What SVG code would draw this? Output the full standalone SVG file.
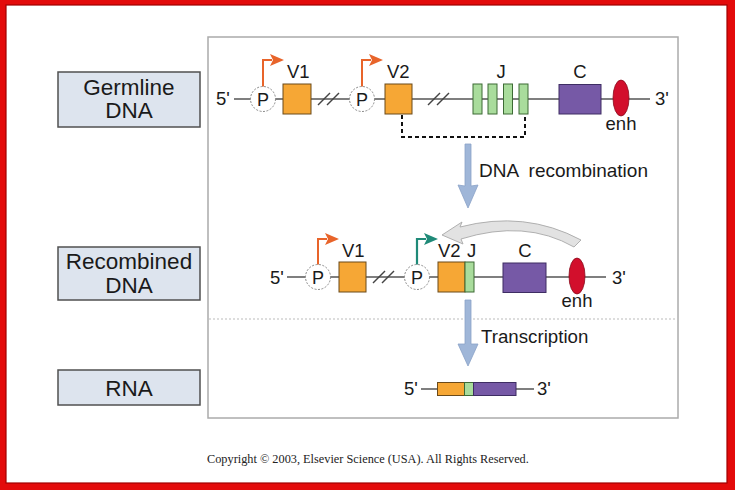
<svg xmlns="http://www.w3.org/2000/svg" width="735" height="490" viewBox="0 0 735 490">
<defs>
<style>
.lbl{font-family:"Liberation Sans",Arial,sans-serif;fill:#1a1a1a}
.big{font-size:22.5px;text-anchor:middle}
.gene{font-size:18.5px}
.end{font-size:18.5px}
.pt{font-size:18px;text-anchor:middle}
.dna{stroke:#555;stroke-width:1.5;fill:none}
.brk{stroke:#444;stroke-width:1.5}
.prom{fill:#fff;stroke:#888;stroke-width:1;stroke-dasharray:2,1.5}
.v{fill:#f6a735;stroke:#6b4a1a;stroke-width:1}
.j{fill:#a9dc9c;stroke:#3d6b35;stroke-width:1}
.c{fill:#7659a6;stroke:#3e2d63;stroke-width:1}
.enh{fill:#d20f2c;stroke:#8a0a1c;stroke-width:0.8}
.lbox{fill:#dde4ee;stroke:#505050;stroke-width:1.5}
.blue{fill:#9fb6d8;stroke:#8aa2c8;stroke-width:0.8}
.oarr{stroke:#e8642a;stroke-width:2;fill:none}
.tarr{stroke:#1f8a78;stroke-width:2.2;fill:none}
</style>
<marker id="mo" markerUnits="userSpaceOnUse" markerWidth="14" markerHeight="12" refX="2" refY="6" orient="auto"><path d="M0,0 L14,6 L0,12 L3,6 Z" fill="#e8642a"/></marker>
<marker id="mt" markerUnits="userSpaceOnUse" markerWidth="14" markerHeight="12" refX="2" refY="6" orient="auto"><path d="M0,0 L14,6 L0,12 L3,6 Z" fill="#1f8a78"/></marker>
</defs>
<rect x="0" y="0" width="735" height="490" fill="#e30b0b"/>
<rect x="6" y="5" width="721" height="478" fill="#fff" stroke="#a00000" stroke-width="1.2"/>
<rect x="208" y="37" width="470" height="381" fill="#fff" stroke="#ababab" stroke-width="1.5"/>
<line x1="209" y1="319" x2="677" y2="319" stroke="#bbb" stroke-width="1" stroke-dasharray="2,2"/>

<g id="label-germline"><rect class="lbox" x="58" y="72" width="142" height="55"/><text class="lbl big" x="129" y="95">Germline</text><text class="lbl big" x="129" y="118">DNA</text></g>
<g id="label-recombined"><rect class="lbox" x="58" y="247" width="142" height="53"/><text class="lbl big" x="129" y="269">Recombined</text><text class="lbl big" x="129" y="293">DNA</text></g>
<g id="label-rna"><rect class="lbox" x="58" y="370" width="142" height="35"/><text class="lbl big" x="129" y="396">RNA</text></g>

<g id="germline-dna">
<line class="dna" x1="234" y1="99" x2="650" y2="99"/>
<text class="lbl end" x="216" y="105">5'</text>
<text class="lbl end" x="655" y="105">3'</text>
<line class="brk" x1="318" y1="105" x2="330" y2="93"/><line class="brk" x1="327" y1="105" x2="339" y2="93"/>
<line class="brk" x1="428" y1="105" x2="440" y2="93"/><line class="brk" x1="437" y1="105" x2="449" y2="93"/>
<path class="oarr" d="M263,87 V60 H272" marker-end="url(#mo)"/>
<path class="oarr" d="M362,87 V60 H371" marker-end="url(#mo)"/>
<circle class="prom" cx="263" cy="99" r="12.5"/><text class="lbl pt" x="263" y="105.500">P</text>
<circle class="prom" cx="362" cy="99" r="12.5"/><text class="lbl pt" x="362" y="105.500">P</text>
<rect class="v" x="283" y="84" width="28" height="30"/><text class="lbl gene" x="287" y="78">V1</text>
<rect class="v" x="385" y="84" width="27" height="30"/><text class="lbl gene" x="387" y="78">V2</text>
<rect class="j" x="473" y="84" width="9" height="30"/>
<rect class="j" x="488" y="84" width="9" height="30"/>
<rect class="j" x="503.500" y="84" width="9" height="30"/>
<rect class="j" x="519" y="84" width="9" height="30"/>
<text class="lbl gene" x="501" y="78" text-anchor="middle">J</text>
<rect class="c" x="559" y="84.500" width="42" height="29.500"/><text class="lbl gene" x="580" y="78" text-anchor="middle">C</text>
<ellipse class="enh" cx="621" cy="98" rx="8" ry="18"/><text class="lbl gene" x="621" y="130" text-anchor="middle">enh</text>
</g>

<g id="connectors">
<path d="M402,115 V137 H525 V115" fill="none" stroke="#111" stroke-width="2" stroke-dasharray="4,3"/>
<polygon class="blue" points="465,144 471,144 471,186 478,185 468,208 458,185 465,186"/>
<text class="lbl" x="479" y="177" font-size="19" xml:space="preserve" style="white-space:pre">DNA  recombination</text>
<path d="M442,235 L462,222 L460,227 Q525,210 581,240 L574,247 Q525,219 461,239 L463,244 Z" fill="#e2e2e2" stroke="#a8a8a8" stroke-width="0.9"/>
<polygon class="blue" points="465,300 471,300 471,344 478,344 468,366 458,344 465,344"/>
<text class="lbl" x="481" y="343" font-size="18.7">Transcription</text>
</g>

<g id="recombined-dna">
<line class="dna" x1="287" y1="277" x2="606" y2="277"/>
<text class="lbl end" x="270" y="284">5'</text>
<text class="lbl end" x="612" y="284">3'</text>
<line class="brk" x1="373" y1="283" x2="385" y2="271"/><line class="brk" x1="382" y1="283" x2="394" y2="271"/>
<path class="oarr" d="M318,265 V239 H327" marker-end="url(#mo)"/>
<path class="tarr" d="M417,265 V239 H426" marker-end="url(#mt)"/>
<circle class="prom" cx="318" cy="277" r="12.5"/><text class="lbl pt" x="318" y="283.500">P</text>
<circle class="prom" cx="417" cy="277" r="12.5"/><text class="lbl pt" x="417" y="283.500">P</text>
<rect class="v" x="339" y="262" width="27" height="30"/><text class="lbl gene" x="342" y="257">V1</text>
<rect class="v" x="438" y="262" width="27" height="30"/><text class="lbl gene" x="438" y="257">V2</text>
<rect class="j" x="465" y="262" width="9" height="30"/><text class="lbl gene" x="467" y="257">J</text>
<rect class="c" x="503" y="263" width="43" height="29.500"/><text class="lbl gene" x="525" y="257" text-anchor="middle">C</text>
<ellipse class="enh" cx="577" cy="276" rx="8" ry="18"/><text class="lbl gene" x="577" y="307" text-anchor="middle">enh</text>
</g>

<g id="rna">
<line class="dna" x1="421" y1="389" x2="534" y2="389"/>
<text class="lbl end" x="404" y="395">5'</text>
<text class="lbl end" x="537" y="395">3'</text>
<rect class="v" x="437.500" y="382.500" width="27" height="13"/>
<rect class="j" x="464.500" y="382.500" width="9" height="13"/>
<rect class="c" x="473.500" y="382.500" width="42.500" height="13"/>
</g>

<text x="207" y="463" font-family="'Liberation Serif','Times New Roman',serif" font-size="12.3" fill="#222">Copyright © 2003, Elsevier Science (USA). All Rights Reserved.</text>
</svg>
